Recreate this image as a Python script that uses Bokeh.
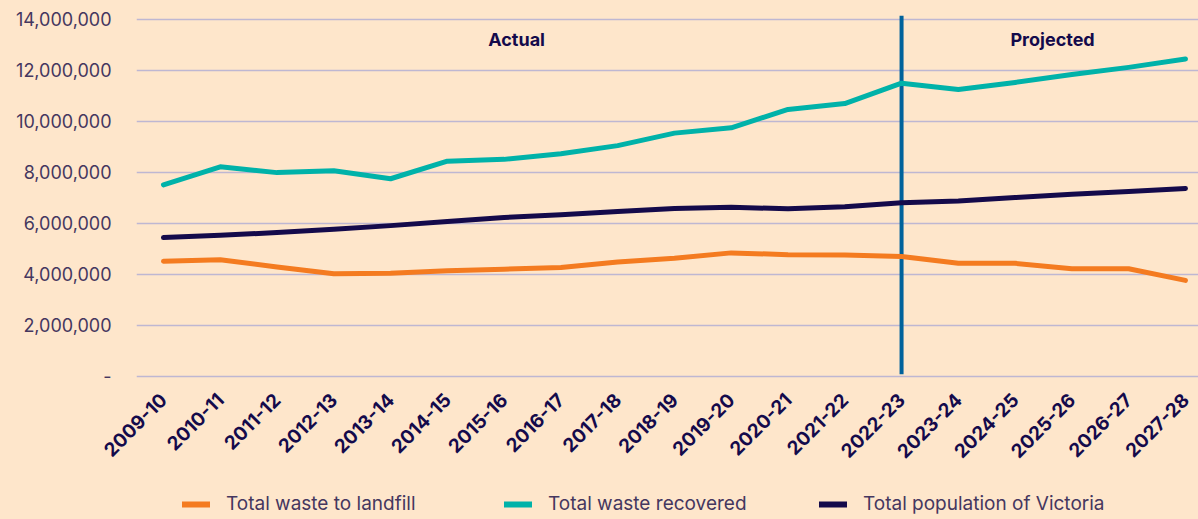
import math
from bokeh.plotting import figure
from bokeh.layouts import column
from bokeh.models import (ColumnDataSource, FixedTicker, NumeralTickFormatter,
                          Legend, LegendItem, Range1d)
from bokeh.core.properties import value
from bokeh.embed import file_html
from bokeh.resources import INLINE

categories = ["2009-10", "2010-11", "2011-12", "2012-13", "2013-14", "2014-15",
              "2015-16", "2016-17", "2017-18", "2018-19", "2019-20", "2020-21",
              "2021-22", "2022-23", "2023-24", "2024-25", "2025-26", "2026-27",
              "2027-28"]
landfill = [4510000, 4570000, 4290000, 4020000, 4040000, 4140000, 4200000,
            4270000, 4480000, 4630000, 4840000, 4770000, 4760000, 4700000,
            4430000, 4430000, 4220000, 4220000, 3760000]
recovered = [7510000, 8220000, 7990000, 8060000, 7750000, 8440000, 8510000,
             8730000, 9050000, 9540000, 9750000, 10470000, 10700000, 11500000,
             11250000, 11530000, 11840000, 12120000, 12450000]
population = [5440000, 5530000, 5640000, 5770000, 5910000, 6070000, 6230000,
              6340000, 6460000, 6580000, 6630000, 6570000, 6650000, 6810000,
              6880000, 7010000, 7140000, 7250000, 7370000]
series_names = ["Total waste to landfill", "Total waste recovered",
                "Total population of Victoria"]
series_keys = ["landfill", "recovered", "population"]
y_ticks = [0, 2000000, 4000000, 6000000, 8000000, 10000000, 12000000, 14000000]
divider_category = "2022-23"
section_labels = ["Actual", "Projected"]

BG = "#FEE6CB"
NAVY = "#140A4B"
LABEL = "#45375F"
colors = ["#F47B20", "#00B2A9", "#140A4B"]
FONT = "Inter"

x = list(range(len(categories)))
src = ColumnDataSource(dict(x=x, landfill=landfill, recovered=recovered,
                            population=population))

W = 1198
LEFT = 136
p = figure(width=W, height=480, output_backend="svg", toolbar_location=None,
           x_range=Range1d(-0.475, 18.23), y_range=Range1d(-90000, 14235000),
           min_border_left=LEFT, min_border_right=0, min_border_top=13,
           min_border_bottom=102)
p.background_fill_color = BG
p.border_fill_color = BG
p.outline_line_color = None

# grid
p.xgrid.grid_line_color = None
p.ygrid.grid_line_color = "#BEB7D2"
p.ygrid.grid_line_width = 1.3
p.ygrid.ticker = FixedTicker(ticks=y_ticks)

# y axis
p.yaxis.ticker = FixedTicker(ticks=y_ticks)
p.yaxis.formatter = NumeralTickFormatter(format="0,0")
p.yaxis.major_label_overrides = {0: "-"}
p.yaxis.axis_line_color = None
p.yaxis.major_tick_line_color = None
p.yaxis.minor_tick_line_color = None
p.yaxis.major_label_standoff = 19
p.yaxis.major_label_text_font = FONT
p.yaxis.major_label_text_font_size = "18px"
p.yaxis.major_label_text_color = LABEL

# x axis
p.xaxis.ticker = FixedTicker(ticks=x)
p.xaxis.major_label_overrides = {i: c for i, c in enumerate(categories)}
p.xaxis.major_label_orientation = math.pi / 4
p.xaxis.axis_line_color = None
p.xaxis.major_tick_line_color = None
p.xaxis.minor_tick_line_color = None
p.xaxis.major_label_standoff = 12
p.xaxis.major_label_text_font = FONT
p.xaxis.major_label_text_font_style = "bold"
p.xaxis.major_label_text_font_size = "19px"
p.xaxis.major_label_text_color = NAVY

# divider line
di = categories.index(divider_category)
p.segment(x0=[di], y0=[80000], x1=[di], y1=[14150000], line_color="#00629B",
          line_width=4)

for key, c in zip(series_keys, colors):
    p.line("x", key, source=src, line_color=c, line_width=5,
           line_join="round", line_cap="round")

# section labels
p.text(x=[6.22, 15.66], y=[13215000, 13215000], text=section_labels,
       text_font=value(FONT), text_font_style="bold", text_font_size="18px",
       text_color=NAVY, text_align="center", text_baseline="middle")

# legend strip
lg = figure(width=W, height=39, output_backend="svg", toolbar_location=None,
            x_range=Range1d(0, 1), y_range=Range1d(0, 1),
            min_border_left=LEFT, min_border_right=0, min_border_top=0,
            min_border_bottom=0)
lg.background_fill_alpha = 0
lg.border_fill_color = BG
lg.outline_line_color = None
lg.axis.visible = False
lg.grid.visible = False

legend_x = [182 - LEFT, 504 - LEFT, 819 - LEFT]
for key, c, name, lx in zip(series_keys, colors, series_names, legend_x):
    r = lg.line("x", key, source=src, line_color=c, line_width=6,
                line_cap="round")
    leg = Legend(items=[LegendItem(label=name, renderers=[r])],
                 location=(lx, 4), orientation="horizontal",
                 glyph_width=28, glyph_height=20, label_standoff=16,
                 padding=0, margin=0, spacing=0,
                 label_text_font=FONT, label_text_font_size="19px",
                 label_text_color=LABEL,
                 background_fill_alpha=0, border_line_alpha=0)
    lg.add_layout(leg, "center")

layout = column(p, lg, spacing=0, styles={"background-color": BG})
open("out.html", "w").write(file_html(layout, INLINE))
